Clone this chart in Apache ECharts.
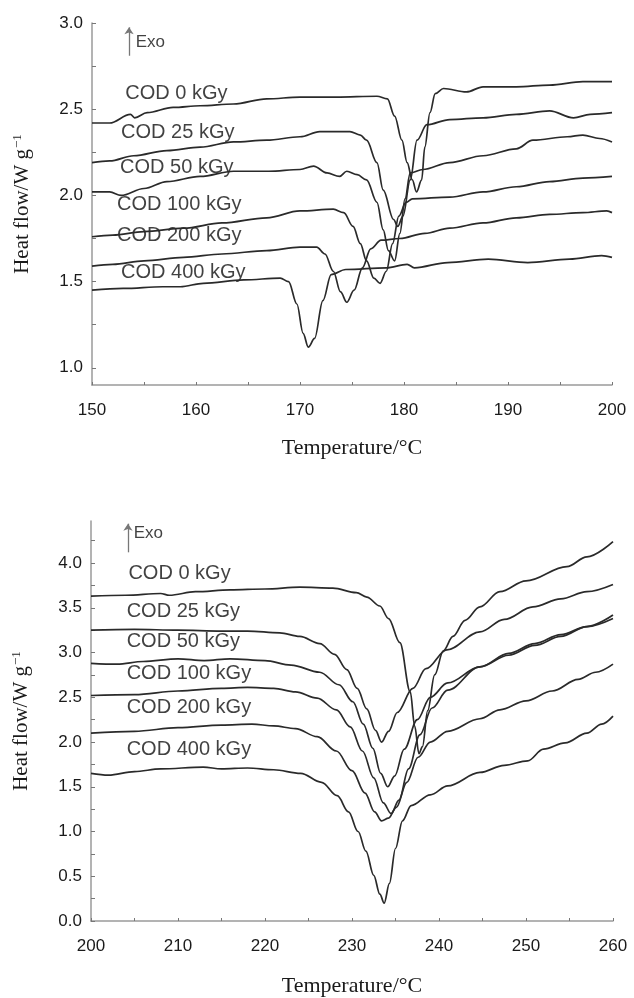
<!DOCTYPE html>
<html lang="en">
<head>
  <meta charset="UTF-8">
  <title>DSC curves COD</title>
  <script src="https://cdn.jsdelivr.net/npm/echarts@6/dist/echarts.min.js"></script>
  <style>
    body { margin: 0; padding: 0; background: #fff; }
    #chart { width: 634px; height: 998px; }
  </style>
</head>
<body>
  <div id="chart"></div>
  <script>
    // dose labels
    var doses = ['COD 0 kGy', 'COD 25 kGy', 'COD 50 kGy', 'COD 100 kGy', 'COD 200 kGy', 'COD 400 kGy'];

    // --- top panel (150-200 °C) : [T, heat flow]
    var top0 = [[150,2.42],[151.7,2.42],[153.7,2.47],[154.1,2.45],[155.3,2.48],[157.8,2.51],[160.4,2.52],[163.6,2.53],[166.8,2.56],[170,2.57],[173.5,2.57],[177.4,2.575],[178.4,2.56],[179.1,2.46],[179.8,2.32],[180.3,2.19],[180.8,2.09],[181.2,2.02],[181.7,2.09],[182,2.28],[182.5,2.48],[183,2.59],[183.8,2.62],[186,2.6],[187.6,2.63],[190.8,2.63],[194,2.64],[197.2,2.66],[200,2.66]];
    var top25 = [[150,2.19],[151.7,2.2],[154,2.23],[157.2,2.26],[160.4,2.28],[163.6,2.31],[166.8,2.32],[170,2.34],[171.9,2.37],[174.8,2.37],[175.8,2.35],[176.4,2.32],[177.4,2.19],[178,2.03],[179,1.86],[179.4,1.82],[179.9,1.88],[180.6,2.09],[181.25,2.32],[182.2,2.41],[184.4,2.44],[187.6,2.45],[190.8,2.47],[194,2.49],[196.3,2.45],[197.9,2.47],[200,2.48]];
    var top50 = [[150,2.02],[151.7,2.02],[152.8,2.0],[155,2.04],[157.2,2.08],[160.4,2.11],[163.6,2.14],[167,2.14],[170,2.15],[171.3,2.17],[172.6,2.13],[173.8,2.11],[174.5,2.14],[175.5,2.12],[176.4,2.09],[177.4,1.96],[178,1.8],[178.5,1.68],[179.1,1.62],[179.6,1.78],[180.1,1.98],[180.6,2.13],[181.8,2.15],[184.4,2.19],[187.6,2.23],[190.8,2.27],[192.4,2.32],[195.7,2.34],[197.2,2.35],[198.8,2.33],[200,2.31]];
    var top100 = [[150,1.76],[152,1.77],[155,1.79],[158.8,1.81],[162.5,1.84],[166.8,1.87],[170,1.91],[173.2,1.92],[174.2,1.9],[175.1,1.82],[175.8,1.72],[176.4,1.62],[177.1,1.52],[177.7,1.49],[178.3,1.56],[178.9,1.72],[179.5,1.88],[180.2,1.96],[180.8,1.98],[184.4,1.99],[187.6,2.02],[190.8,2.05],[194,2.08],[197.2,2.1],[200,2.11]];
    var top200 = [[150,1.59],[152,1.6],[155,1.62],[158.8,1.64],[162.5,1.66],[166.8,1.68],[170,1.7],[171.6,1.7],[172.4,1.66],[173.2,1.56],[173.9,1.44],[174.5,1.38],[175.2,1.45],[176,1.58],[176.8,1.69],[177.8,1.74],[179.6,1.75],[182,1.78],[184.4,1.81],[187.6,1.84],[190.8,1.87],[194,1.89],[197.2,1.9],[199.5,1.91],[200,1.9]];
    var top400 = [[150,1.45],[153,1.46],[156.8,1.47],[158.5,1.47],[160.7,1.49],[164.6,1.51],[168.1,1.52],[168.9,1.5],[169.7,1.37],[170.3,1.2],[170.8,1.12],[171.4,1.17],[172.2,1.39],[173,1.54],[174.4,1.57],[178.3,1.58],[180.3,1.6],[181,1.58],[184.2,1.61],[188.1,1.63],[191.9,1.61],[195.9,1.63],[199,1.65],[200,1.64]];

    // --- bottom panel (200-260 °C)
    var bot0 = [[200,3.63],[204,3.64],[208,3.66],[209,3.64],[212,3.68],[216,3.7],[220,3.71],[224,3.73],[227.8,3.72],[230.5,3.67],[231.7,3.62],[233.2,3.52],[234.2,3.38],[235.5,3.11],[236.7,2.56],[237.2,2.18],[237.7,1.87],[238.1,1.95],[238.7,2.35],[239.5,2.75],[240.5,3.02],[241.6,3.18],[243,3.36],[244.7,3.51],[247,3.68],[250,3.8],[254.7,3.96],[257,4.07],[260,4.24]];
    var bot25 = [[200,3.25],[205,3.26],[210,3.25],[215,3.24],[218,3.24],[221.7,3.22],[224,3.18],[226.3,3.1],[228,2.98],[229.4,2.81],[230.6,2.6],[231.7,2.37],[232.7,2.13],[233.4,2.0],[234.2,2.12],[235.2,2.33],[237,2.6],[238.5,2.82],[240.9,3.03],[244.7,3.23],[247.5,3.37],[250.8,3.51],[254,3.6],[257,3.68],[260,3.76]];
    var bot50 = [[200,2.88],[203,2.87],[206,2.9],[210,2.93],[213,2.91],[216,2.93],[220,2.91],[223,2.86],[226.3,2.78],[228.5,2.64],[230.1,2.45],[231.3,2.2],[232.4,1.93],[233.3,1.65],[234.1,1.5],[234.9,1.62],[236,1.92],[237.5,2.25],[239,2.5],[241,2.66],[244.7,2.84],[248,2.97],[251,3.08],[254,3.18],[257,3.29],[260,3.42]];
    var bot100 = [[200,2.52],[205,2.53],[210,2.57],[215,2.6],[218,2.61],[221,2.6],[223.5,2.56],[226,2.49],[228.2,2.36],[229.8,2.17],[231.2,1.9],[232.5,1.6],[233.6,1.32],[234.5,1.2],[235.4,1.35],[236.5,1.7],[237.8,2.08],[239.2,2.38],[241,2.58],[244.7,2.84],[248,2.99],[251,3.1],[254,3.2],[257,3.29],[260,3.38]];
    var bot200 = [[200,2.1],[205,2.12],[210,2.16],[215,2.19],[218.5,2.2],[221,2.18],[223.5,2.15],[226,2.06],[228.2,1.9],[230,1.68],[231.5,1.43],[232.6,1.22],[233.4,1.12],[234.2,1.15],[235.1,1.27],[236.3,1.55],[237.6,1.83],[239,2.0],[241,2.12],[244.7,2.26],[247,2.36],[250,2.46],[253,2.57],[256,2.7],[258,2.78],[260,2.87]];
    var bot400 = [[200,1.65],[202,1.63],[205,1.67],[208,1.7],[212.9,1.72],[215,1.7],[218,1.71],[221,1.69],[224.1,1.65],[226.5,1.55],[228.3,1.4],[229.6,1.22],[230.7,1.0],[231.6,0.78],[232.5,0.51],[233.2,0.3],[233.7,0.2],[234.3,0.42],[235,0.81],[235.8,1.12],[236.8,1.29],[239,1.41],[241,1.51],[244.7,1.66],[247.5,1.74],[250.2,1.79],[252,1.92],[254.5,1.99],[257,2.1],[258.7,2.2],[260,2.29]];

    // label anchors [T, heat flow]
    var topLabelPos = [[153.2,2.59],[152.8,2.365],[152.7,2.16],[152.4,1.95],[152.4,1.77],[152.8,1.55]];
    var botLabelPos = [[204.3,3.88],[204.1,3.46],[204.1,3.12],[204.1,2.77],[204.1,2.39],[204.1,1.92]];

    // axis ticks
    var topXLabels = [150,160,170,180,190,200];
    var topXTicks = [150,155,160,165,170,175,180,185,190,195,200];
    var topYLabels = [1.0,1.5,2.0,2.5,3.0];
    var topYTicks = [1.0,1.25,1.5,1.75,2.0,2.25,2.5,2.75,3.0];
    var botXLabels = [200,210,220,230,240,250,260];
    var botXTicks = [200,205,210,215,220,225,230,235,240,245,250,255,260];
    var botYLabels = [0.0,0.5,1.0,1.5,2.0,2.5,3.0,3.5,4.0];
    var botYTicks = [0,0.25,0.5,0.75,1.0,1.25,1.5,1.75,2.0,2.25,2.5,2.75,3.0,3.25,3.5,3.75,4.0,4.25];

    // Exo arrows
    var topExo = [[153.56,2.81],[153.56,2.975]];
    var botExo = [[204.25,4.12],[204.25,4.44]];
    var topExoText = [154.2,2.89];
    var botExoText = [204.9,4.33];

    var topCurves = [top0, top25, top50, top100, top200, top400];
    var botCurves = [bot0, bot25, bot50, bot100, bot200, bot400];

    var chart = echarts.init(document.getElementById('chart'));

    var axisGray = '#9a9a9a';
    var sansFont = 'Liberation Sans, Arial, sans-serif';
    var serifFont = 'Liberation Serif, Times New Roman, serif';

    function xAxisCfg(gridIndex, min, max, labels, ticks, gap) {
      return {
        type: 'value', gridIndex: gridIndex, min: min, max: max, interval: 10,
        name: 'Temperature/°C', nameLocation: 'middle', nameGap: gap,
        nameTextStyle: { fontFamily: serifFont, fontSize: 22, color: '#1a1a1a' },
        axisLine: { show: true, onZero: false, lineStyle: { color: axisGray, width: 1.5 } },
        axisTick: { show: true, inside: true, length: 3, customValues: ticks, lineStyle: { color: '#777' } },
        axisLabel: { customValues: labels, margin: 17, fontFamily: sansFont, fontSize: 17, color: '#1a1a1a' },
        splitLine: { show: false }
      };
    }
    function yAxisCfg(gridIndex, min, max, labels, ticks) {
      return {
        type: 'value', gridIndex: gridIndex, min: min, max: max,
        name: 'Heat flow/W g{sup|−1}', nameLocation: 'middle', nameGap: 58, nameRotate: 90,
        nameTextStyle: {
          fontFamily: serifFont, fontSize: 21, color: '#1a1a1a',
          rich: { sup: { fontFamily: serifFont, fontSize: 13, color: '#1a1a1a', padding: [0, 0, 10, 1] } }
        },
        axisLine: { show: true, onZero: false, lineStyle: { color: axisGray, width: 1.5 } },
        axisTick: { show: true, inside: true, length: 4, customValues: ticks, lineStyle: { color: '#777' } },
        axisLabel: {
          customValues: labels, margin: 9, fontFamily: sansFont, fontSize: 17, color: '#1a1a1a',
          formatter: function (v) { return Number(v).toFixed(1); }
        },
        splitLine: { show: false }
      };
    }

    var series = [];
    function addPanel(curves, labelPos, exo, exoText, idx) {
      curves.forEach(function (c, i) {
        series.push({
          name: doses[i], type: 'line', xAxisIndex: idx, yAxisIndex: idx,
          data: c, showSymbol: false, smooth: 0.35, smoothMonotone: 'x',
          lineStyle: { color: '#2a2a2a', width: 1.7 }, z: 3
        });
      });
      var lab = labelPos.map(function (p, i) { return [p[0], p[1], doses[i]]; });
      lab.push([exoText[0], exoText[1], 'Exo']);
      series.push({
        type: 'scatter', xAxisIndex: idx, yAxisIndex: idx, symbolSize: 0, silent: true,
        data: lab,
        label: {
          show: true, position: 'right', distance: 0,
          formatter: function (p) { return p.value[2]; },
          fontFamily: sansFont, color: '#111',
          fontSize: 20
        },
        labelLayout: function (p) {
          return p.dataIndex === lab.length - 1 ? { fontSize: 17 } : {};
        },
        markLine: {
          silent: true, symbol: ['none', 'arrow'], symbolSize: 7,
          lineStyle: { color: '#777', width: 1.3, type: 'solid' },
          label: { show: false },
          data: [[{ coord: exo[0] }, { coord: exo[1] }]]
        }
      });
    }
    addPanel(topCurves, topLabelPos, topExo, topExoText, 0);
    addPanel(botCurves, botLabelPos, botExo, botExoText, 1);

    var option = {
      animation: false,
      backgroundColor: '#fff',
      grid: [
        { left: 92, top: 23, width: 520, height: 362 },
        { left: 91, top: 521, width: 522, height: 402 }
      ],
      xAxis: [
        xAxisCfg(0, 150, 200, topXLabels, topXTicks, 52),
        xAxisCfg(1, 200, 260, botXLabels, botXTicks, 54)
      ],
      yAxis: [
        yAxisCfg(0, 0.9, 3.0, topYLabels, topYTicks),
        yAxisCfg(1, 0, 4.47, botYLabels, botYTicks)
      ],
      series: series
    };
    chart.setOption(option);
  </script>
</body>
</html>
